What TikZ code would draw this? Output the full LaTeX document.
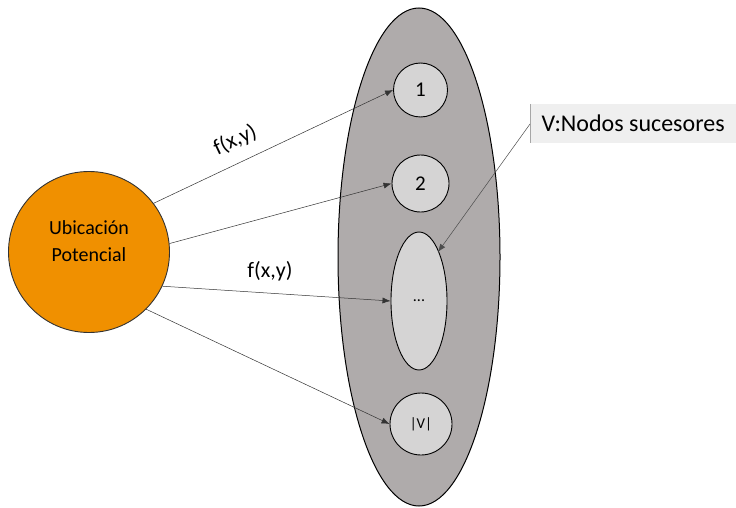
\documentclass[tikz,border=0pt]{standalone}
\usepackage{fontspec}
\setmainfont{Carlito}
\usetikzlibrary{arrows.meta,shapes.geometric}
\definecolor{orangeC}{HTML}{F09000}
\definecolor{bigGray}{HTML}{AFABAB}
\definecolor{nodeGray}{HTML}{D5D4D4}
\definecolor{boxGray}{HTML}{EFEFEF}
\tikzset{
  small/.style={circle,draw=black,line width=0.9pt,fill=nodeGray,inner sep=0pt,font=\fontsize{21}{24}\selectfont},
  conn/.style={draw=black!80,line width=0.5pt,-{Latex[length=8pt,width=6pt]}},
  lbl/.style={font=\fontsize{22}{26}\selectfont,inner sep=1pt}
}
\begin{document}
\begin{tikzpicture}[x=1pt,y=-1pt]
\useasboundingbox (0,0) rectangle (736,508);
% big ellipse
\node (big) [ellipse,draw=black,line width=1pt,fill=bigGray,minimum width=162pt,minimum height=498pt,inner sep=0pt] at (419,257) {};
% origin
\node (src) [circle,draw=black!80,line width=0.9pt,fill=orangeC,minimum size=161pt,inner sep=0pt,align=center,font=\fontsize{20}{27}\selectfont] at (89,252) {Ubicación\\Potencial\\[-6pt]\mbox{}};
% successors
\node (n1) [small,minimum size=54pt] at (420.5,90) {1};
\node (n2) [small,minimum size=57pt] at (420.5,183.5) {2};
\node (nd) [ellipse,draw=black,line width=0.9pt,fill=nodeGray,minimum width=56pt,minimum height=138pt,inner sep=0pt,font=\fontsize{16}{18}\selectfont] at (419,301) {...};
\node (nv) [small,minimum size=62pt,font=\fontsize{15}{18}\selectfont] at (421,424) {|V|};
% callout box
\node (lab) [fill=boxGray,minimum width=206pt,minimum height=39pt,inner sep=0pt,anchor=north west,font=\fontsize{24}{28}\selectfont] at (530,104) {V:Nodos sucesores};
\draw[draw=black!35,line width=0.6pt] (lab.north west) -- (lab.south west);
\coordinate (labp) at (530,124);
\draw[draw=black!70,line width=0.5pt,-{Latex[length=8pt,width=6pt]}] (labp) -- (438,252);
% connectors
\draw[conn] (src.37) -- (n1.west) node[lbl,pos=0.38,sloped,above=11pt] {f(x,y)};
\draw[conn] (src.6) -- (n2.west);
\draw[conn] (src.-25) -- (nd.west);
\draw[conn] (src.-45) -- (nv.west);
\node (f2) [lbl] at (270,271) {f(x,y)};
\end{tikzpicture}
\end{document}
